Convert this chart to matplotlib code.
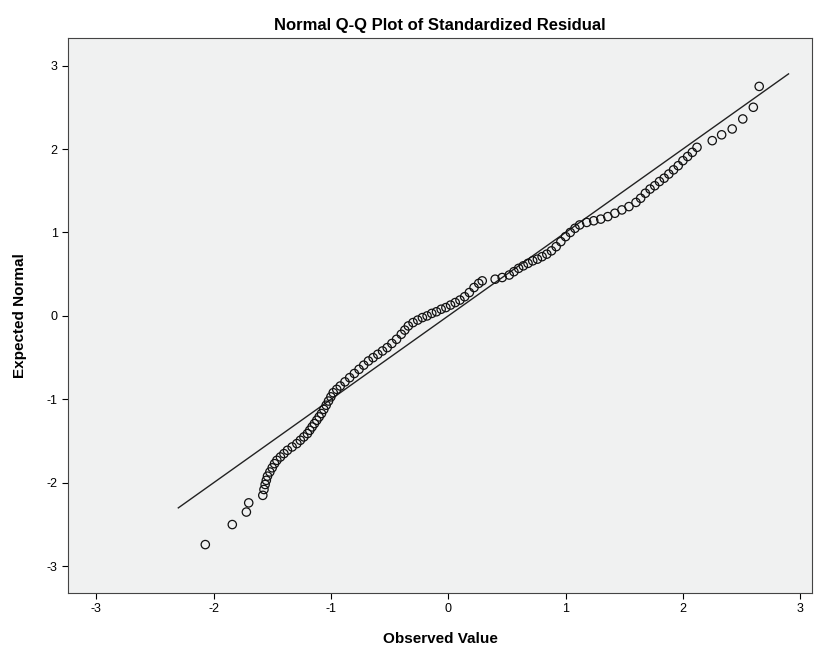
import matplotlib
matplotlib.use("Agg")
import matplotlib.pyplot as plt

observed = [-2.07,-1.84,-1.72,-1.70,-1.58,-1.57,-1.56,-1.55,-1.54,-1.52,-1.50,-1.48,-1.46,-1.43,-1.40,-1.37,-1.33,-1.29,-1.26,-1.23,
 -1.20,-1.18,-1.16,-1.14,-1.12,-1.10,-1.08,-1.06,-1.04,-1.02,-1.00,-0.98,-0.95,-0.92,-0.88,-0.84,-0.80,-0.76,-0.72,-0.68,-0.64,-0.60,
 -0.56,-0.52,-0.48,-0.44,-0.40,-0.37,-0.34,-0.30,-0.26,-0.22,-0.18,-0.14,-0.10,-0.06,-0.02,0.02,0.06,0.10,0.14,0.18,0.22,0.26,0.29,
 0.40,0.46,0.52,0.56,0.60,0.64,0.68,0.72,0.76,0.80,0.84,0.88,0.92,0.96,1.00,1.04,1.08,1.12,1.18,1.24,1.30,1.36,1.42,1.48,1.54,1.60,
 1.64,1.68,1.72,1.76,1.80,1.84,1.88,1.92,1.96,2.00,2.04,2.08,2.12,2.25,2.33,2.42,2.51,2.60,2.65]
expected = [-2.74,-2.50,-2.35,-2.24,-2.15,-2.08,-2.02,-1.97,-1.92,-1.87,-1.82,-1.77,-1.73,-1.69,-1.65,-1.61,-1.57,-1.53,-1.49,-1.45,
 -1.41,-1.37,-1.33,-1.29,-1.25,-1.21,-1.17,-1.12,-1.07,-1.02,-0.97,-0.92,-0.88,-0.84,-0.79,-0.74,-0.69,-0.64,-0.59,-0.54,-0.50,-0.46,
 -0.42,-0.38,-0.33,-0.28,-0.22,-0.17,-0.12,-0.08,-0.05,-0.02,0.00,0.03,0.05,0.08,0.10,0.13,0.16,0.19,0.23,0.28,0.34,0.39,0.42,
 0.44,0.46,0.49,0.53,0.57,0.60,0.63,0.66,0.68,0.71,0.74,0.78,0.83,0.89,0.95,1.00,1.05,1.09,1.12,1.14,1.16,1.19,1.23,1.27,1.31,1.36,
 1.41,1.47,1.52,1.56,1.61,1.65,1.70,1.75,1.80,1.86,1.91,1.96,2.02,2.10,2.17,2.24,2.36,2.50,2.75]
line_ends = [-2.3, 2.9]
ticks = [-3, -2, -1, 0, 1, 2, 3]

plt.rcParams['font.family'] = ['Liberation Sans', 'DejaVu Sans']
plt.rcParams['axes.unicode_minus'] = False
fig = plt.figure(figsize=(8.21, 6.5), dpi=100)
ax = fig.add_axes([68/821, 57/650, 744/821, 555/650])
ax.set_facecolor('#f0f1f1')
ax.plot(line_ends, line_ends, color='#222222', lw=1)
ax.scatter(observed, expected, s=36, facecolors='none', edgecolors='#111111', linewidths=0.9, zorder=3)
ax.set_xlim(-3.24, 3.10)
ax.set_ylim(-3.32, 3.33)
ax.set_xticks(ticks); ax.set_yticks(ticks)
ax.tick_params(labelsize=9, length=4)
ax.set_title('Normal Q-Q Plot of Standardized Residual', fontsize=12, pad=6, fontweight='semibold')
ax.set_xlabel('Observed Value', fontsize=11, fontweight='bold', labelpad=12)
ax.set_ylabel('Expected Normal', fontsize=11, fontweight='bold', labelpad=14)
for s in ax.spines.values():
    s.set_color('#444444'); s.set_linewidth(0.8)
fig.savefig('out.png', dpi=100)
